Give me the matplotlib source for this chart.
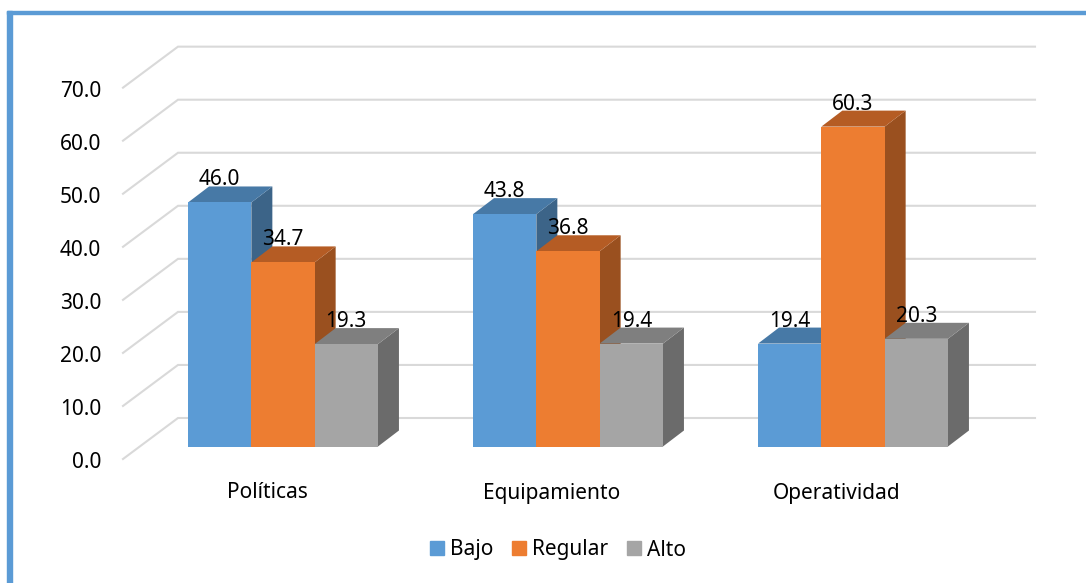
import matplotlib
matplotlib.use('Agg')
import matplotlib.pyplot as plt
from matplotlib.patches import Patch, Rectangle

categorias = ['Políticas', 'Equipamiento', 'Operatividad']
series = ['Bajo', 'Regular', 'Alto']
bajo = [46.0, 43.8, 19.4]
regular = [34.7, 36.8, 60.3]
alto = [19.3, 19.4, 20.3]
ticks_y = [0, 10, 20, 30, 40, 50, 60, 70]

colores = ['#5B9BD5', '#ED7D31', '#A5A5A5']
colores_top = ['#4779A6', '#B55C24', '#7F7F7F']
colores_lado = ['#3C6488', '#9A501F', '#6B6B6B']

W, H = 1086, 583
x0_px, y0_px = 283, 446.5   # base de las barras
px_x, px_y = 285.0, 5.305   # pixeles por categoria / por unidad
ancho = 63.3 / px_x
dx, dy = 21 / px_x, 16 / px_y

plt.rcParams['font.family'] = ['Noto Sans', 'DejaVu Sans']
fs = 15

fig = plt.figure(figsize=(W / 100, H / 100), dpi=100)
ax = fig.add_axes([0, 0, 1, 1])
ax.set_xlim(-x0_px / px_x, (W - x0_px) / px_x)
ax.set_ylim(-(H - y0_px) / px_y, y0_px / px_y)
ax.axis('off')

# Marco del grafico (solo izquierda y arriba)
fig.patches.append(Rectangle((7 / W, 0), 5 / W, 1 - 11 / H, transform=fig.transFigure, color='#5B9BD5'))
fig.patches.append(Rectangle((7 / W, 1 - 14 / H), 1 - 7 / W, 3 / H, transform=fig.transFigure, color='#5B9BD5'))

# Rejilla con el piso en perspectiva
xa, xb, xc = (123 - x0_px) / px_x, (178 - x0_px) / px_x, (1035 - x0_px) / px_x
baja, alta = (459 - y0_px) / px_y, (y0_px - 418) / px_y
for v in ticks_y:
    ax.plot([xa, xb, xc], [v - baja, v + alta, v + alta], color='#D9D9D9', lw=1.5, zorder=1,
            solid_joinstyle='miter')
    ax.text(-182 / px_x, v - baja - 3.5 / px_y, '%.1f' % v, ha='right', va='center', fontsize=fs, color='black', zorder=20)

# Barras 3D
for s, valores in enumerate([bajo, regular, alto]):
    for i, v in enumerate(valores):
        x = i + (s - 1.5) * ancho
        z = 2 + i * 3 + s
        ax.fill([x + ancho, x + ancho + dx, x + ancho + dx, x + ancho],
                [0, dy, v + dy, v], color=colores_lado[s], lw=0, zorder=z)
        ax.fill([x, x + dx, x + ancho + dx, x + ancho],
                [v, v + dy, v + dy, v], color=colores_top[s], lw=0, zorder=z)
        ax.bar(x, v, ancho, align='edge', color=colores[s], lw=0, zorder=z)
        ax.text(x + ancho / 2, v + dy - 4 / px_y, '%.1f' % v, ha='center', va='bottom', fontsize=fs,
                color='black', zorder=20)

for i, c in enumerate(categorias):
    ax.text(i - 16 / px_x, (y0_px - 493) / px_y, c, ha='center', va='center', fontsize=fs, color='black')

handles = [Patch(color=c, label=s) for c, s in zip(colores, series)]
ax.legend(handles=handles, ncol=3, loc='center', bbox_to_anchor=(558 / W, 1 - 550 / H),
          bbox_transform=fig.transFigure, frameon=False, fontsize=fs, handlelength=0.67, handleheight=0.67,
          handletextpad=0.3, columnspacing=0.88, labelcolor='black')

fig.savefig('out.png', dpi=100)
